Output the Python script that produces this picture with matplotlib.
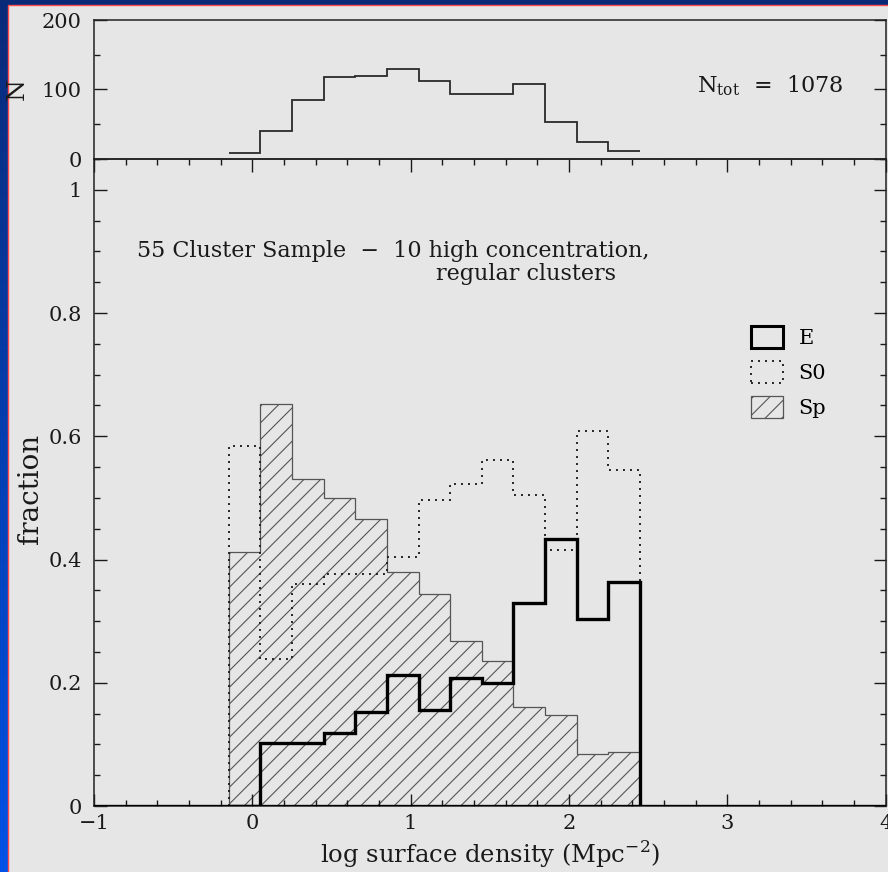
import numpy as np
import matplotlib.pyplot as plt
from matplotlib.patches import Rectangle, Patch
from matplotlib.ticker import MultipleLocator

# bin edges in log surface density
edges = [-0.15, 0.05, 0.25, 0.45, 0.65, 0.85, 1.05, 1.25, 1.45, 1.65, 1.85, 2.05, 2.25, 2.45]

# number of galaxies per bin (top panel)
n_gal = [9, 40, 85, 118, 120, 129, 112, 94, 94, 108, 53, 25, 11]

# morphological fractions per bin
frac_e = [0.0, 0.103, 0.103, 0.119, 0.153, 0.212, 0.156, 0.207, 0.200, 0.330, 0.434, 0.304, 0.364]
frac_s0 = [0.585, 0.239, 0.361, 0.376, 0.376, 0.404, 0.497, 0.523, 0.562, 0.505, 0.415, 0.608, 0.546]
frac_sp = [0.413, 0.653, 0.530, 0.500, 0.466, 0.380, 0.344, 0.268, 0.235, 0.161, 0.147, 0.084, 0.088]

n_tot = 1078
serif = 'DejaVu Serif'
plt.rcParams['font.family'] = serif
plt.rcParams['hatch.linewidth'] = 0.8
plt.rcParams['axes.linewidth'] = 1.1
txt_col = '#1a1a1a'

fig = plt.figure(figsize=(8.88, 8.72), dpi=100)

# slide-like background: blue gradient band with a gray panel
bg = fig.add_axes([0, 0, 1, 1], zorder=-10)
grad = np.linspace(0, 1, 256).reshape(-1, 1)
bg.imshow(grad, aspect='auto', extent=[0, 1, 0, 1], origin='upper',
          cmap=plt.matplotlib.colors.LinearSegmentedColormap.from_list('b', ['#0a2a78', '#0052e6']))
bg.add_patch(Rectangle((8 / 888, -0.01), 1.0, 1 - 5 / 872 + 0.01, facecolor='#e6e6e6',
                       edgecolor='#ff4d4d', lw=1.0))
bg.set_xlim(0, 1)
bg.set_ylim(0, 1)
bg.axis('off')

left, right = 94 / 888, 885.5 / 888
y_mid = 1 - 159 / 872
ax_top = fig.add_axes([left, y_mid, right - left, (1 - 20 / 872) - y_mid])
ax = fig.add_axes([left, 1 - 806 / 872, right - left, y_mid - (1 - 806 / 872)])
for a in (ax_top, ax):
    a.set_facecolor('none')
    for s in a.spines.values():
        s.set_color('#222222')

# -----------------------------------#
# top panel: N per bin
# -----------------------------------#
ax_top.stairs(n_gal, edges, color='#2a2a2a', lw=1.3, baseline=None)
ax_top.set_xlim(-1, 4)
ax_top.set_ylim(0, 200)
ax_top.yaxis.set_major_locator(MultipleLocator(100))
ax_top.yaxis.set_minor_locator(MultipleLocator(50))
ax_top.tick_params(which='both', direction='in', bottom=False, top=False, left=True, right=True,
                   labelbottom=False, labelsize=15, pad=9, colors=txt_col)
ax_top.tick_params(which='major', length=9, width=1.0)
ax_top.tick_params(which='minor', length=4.5, width=1.0)
ax_top.set_ylabel('N', fontsize=18, color=txt_col)
ax_top.yaxis.set_label_coords(-0.083, 0.5)
ax_top.text(0.762, 0.53, r'N$_{\mathregular{tot}}$  =  ' + str(n_tot), transform=ax_top.transAxes,
            fontsize=16, color=txt_col, va='center', ha='left')

# -----------------------------------#
# bottom panel: fractions
# -----------------------------------#
ax.stairs(frac_sp, edges, fill=True, facecolor='none', edgecolor='#555555', hatch='//', lw=0.9)
ax.stairs(frac_s0, edges, color='#222222', lw=1.4, linestyle=(0, (1, 2.6)))
ax.axhline(0, color='black', lw=2.4, zorder=3)
ax.stairs(frac_e, edges, color='black', lw=2.4, zorder=4)

ax.set_xlim(-1, 4)
ax.set_ylim(0, 1.05)
ax.xaxis.set_major_locator(MultipleLocator(1))
ax.xaxis.set_minor_locator(MultipleLocator(0.2))
ax.yaxis.set_major_locator(MultipleLocator(0.2))
ax.yaxis.set_minor_locator(MultipleLocator(0.05))
ax.set_yticks([0, 0.2, 0.4, 0.6, 0.8, 1.0], ['0', '0.2', '0.4', '0.6', '0.8', '1'])
ax.tick_params(which='both', direction='in', top=True, right=True, labelsize=15, colors=txt_col)
ax.tick_params(axis='y', pad=9)
ax.tick_params(axis='x', pad=6)
ax.tick_params(which='major', length=9, width=1.0)
ax.tick_params(which='minor', length=4.5, width=1.0)

ax.set_xlabel(r'log surface density (Mpc$^{\mathregular{-2}}$)', fontsize=17.5,
              color=txt_col, labelpad=4)
ax.set_ylabel('fraction', fontsize=20, color=txt_col)
ax.yaxis.set_label_coords(-0.063, 0.49)

ax.text(-0.726, 0.901, '55 Cluster Sample  \u2212  10 high concentration,', fontsize=16,
        color=txt_col, ha='left', va='center')
ax.text(1.161, 0.864, 'regular clusters', fontsize=16, color=txt_col, ha='left', va='center')

handles = [Patch(facecolor='none', edgecolor='black', lw=2.2),
           Patch(facecolor='none', edgecolor='#222222', lw=1.4, linestyle=(0, (1, 2.6))),
           Patch(facecolor='none', edgecolor='#555555', lw=0.9, hatch='//')]
ax.legend(handles, ['E', 'S0', 'Sp'], loc='upper left', bbox_to_anchor=(0.830, 0.742),
          frameon=False, fontsize=15, handlelength=1.53, handleheight=1.25,
          handletextpad=0.75, labelspacing=0.62, borderaxespad=0, borderpad=0)

fig.savefig('out.png', dpi=100)
